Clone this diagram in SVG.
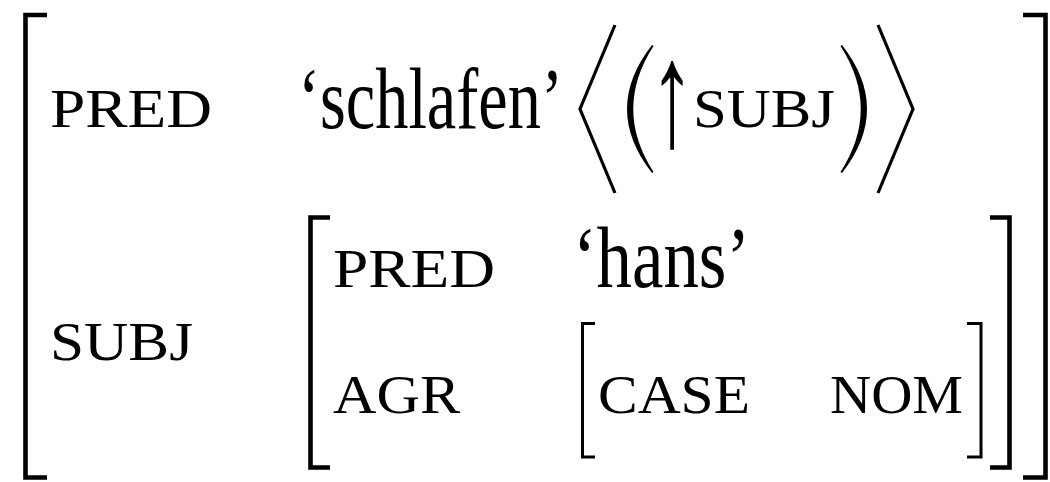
<svg xmlns="http://www.w3.org/2000/svg" width="1050" height="482" viewBox="0 0 1050 482">
<style>
  .bk { fill: none; stroke: #000; stroke-width: 4.6; stroke-linejoin: miter; stroke-linecap: butt; }
  .bk2 { fill: none; stroke: #000; stroke-width: 3; stroke-linejoin: miter; stroke-linecap: butt; }
  .ang { fill: none; stroke: #000; stroke-width: 3.2; stroke-linejoin: miter; stroke-miterlimit: 10; }
  .sc { font-family: "Liberation Serif", "DejaVu Serif", serif; font-size: 54px; fill: #000; }
  .rm { font-family: "Liberation Serif", "DejaVu Serif", serif; font-size: 86px; fill: #000; }
  .arr { font-family: "Liberation Serif", "DejaVu Serif", serif; font-size: 150px; fill: #000; }
</style>
<rect width="1050" height="482" fill="#fff"/>
<g id="outer-avm">
  <path class="bk" d="M47,15 H25.5 V477.5 H47"/>
  <path class="bk" d="M1023,15 H1045.5 V477.5 H1023"/>
</g>
<g id="row-pred">
  <text class="sc" x="50" y="127" textLength="162" lengthAdjust="spacingAndGlyphs">PRED</text>
  <text class="rm" x="298" y="128" textLength="265" lengthAdjust="spacingAndGlyphs">‘schlafen’</text>
  <polyline class="ang" points="615,25 580,109 615,193"/>
  <path d="M652,45 Q602,109 652,173 L653.5,172 Q613,109 653.5,46 Z" fill="#000"/>
  <text class="arr" transform="translate(672,145) scale(0.6,1)" text-anchor="middle">↑</text>
  <text class="sc" x="693" y="127" textLength="142" lengthAdjust="spacingAndGlyphs">SUBJ</text>
  <path d="M842,45 Q892,109 842,173 L840.5,172 Q881,109 840.5,46 Z" fill="#000"/>
  <polyline class="ang" points="878,25 913,109 878,193"/>
</g>
<g id="row-subj">
  <text class="sc" x="50" y="360" textLength="143" lengthAdjust="spacingAndGlyphs">SUBJ</text>
  <g id="subj-avm">
    <path class="bk" d="M330,217.5 H310.5 V467.5 H330"/>
    <path class="bk" d="M990,217.5 H1009.5 V467.5 H990"/>
    <text class="sc" x="333" y="287" textLength="162" lengthAdjust="spacingAndGlyphs">PRED</text>
    <text class="rm" x="573" y="287" textLength="177" lengthAdjust="spacingAndGlyphs">‘hans’</text>
    <text class="sc" x="333" y="413" textLength="127" lengthAdjust="spacingAndGlyphs">AGR</text>
    <g id="agr-avm">
      <path class="bk2" d="M595,323.5 H582.5 V457 H595"/>
      <path class="bk2" d="M967,323.5 H981 V457 H967"/>
      <text class="sc" x="598" y="413" textLength="152" lengthAdjust="spacingAndGlyphs">CASE</text>
      <text class="sc" x="830" y="413" textLength="133" lengthAdjust="spacingAndGlyphs">NOM</text>
    </g>
  </g>
</g>
</svg>
